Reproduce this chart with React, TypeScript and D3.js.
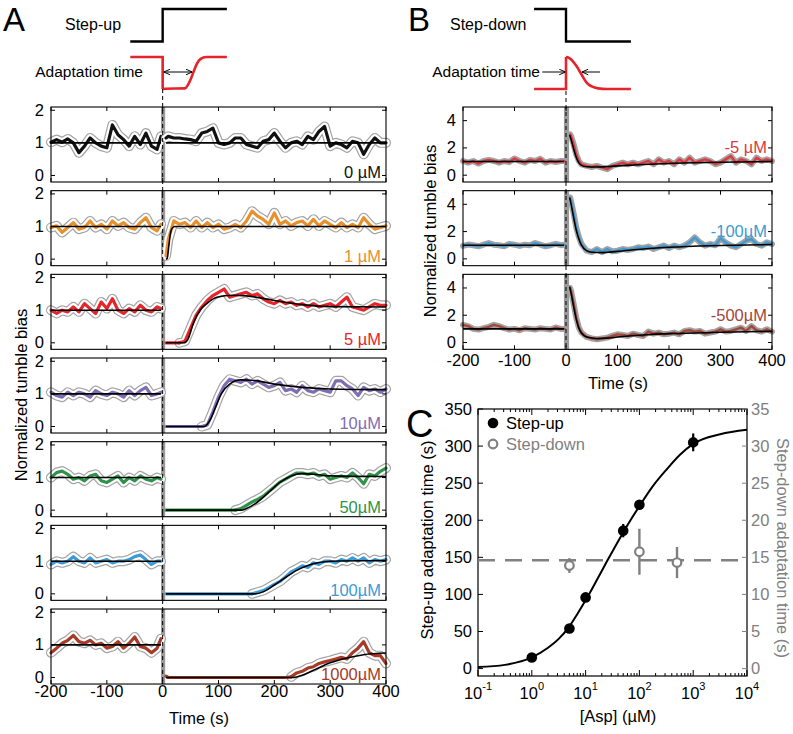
import * as d3 from "d3";

const FONT = "'Liberation Sans', Arial, Helvetica, sans-serif";

// sample times (s)
const preT = [-200, -190, -180, -170, -160, -150, -140, -130, -120, -110, -100, -90, -80, -70, -60, -50, -40, -30, -20, -10, -3];
const postT = [6, 10, 20, 30, 40, 50, 60, 70, 80, 90, 100, 110, 120, 130, 140, 150, 160, 170, 180, 190, 200, 210, 220, 230, 240, 250, 260, 270, 280, 290, 300, 310, 320, 330, 340, 350, 360, 370, 380, 390, 400];
const postTB = [8, 10, 15, 20, 25, 30, 40, 50, 60, 70, 80, 90, 100, 110, 120, 130, 140, 150, 160, 170, 180, 190, 200, 210, 220, 230, 240, 250, 260, 270, 280, 290, 300, 310, 320, 330, 340, 350, 360, 370, 380, 390, 400];

// step-up (A) normalized tumble bias
const up0Pre = [1.02, 1.1, 1.02, 1.12, 1.0, 0.7, 0.9, 1.15, 1.0, 0.9, 0.85, 1.55, 1.25, 1.1, 0.9, 1.2, 0.95, 1.3, 0.9, 0.8, 1.2];
const up0Post = [1.15, 1.2, 1.15, 1.15, 1.12, 1.1, 1.05, 1.3, 1.35, 1.45, 1.0, 0.95, 1.0, 1.15, 1.15, 0.95, 0.9, 0.85, 1.05, 1.1, 1.3, 1.05, 0.85, 1.0, 1.05, 0.95, 1.2, 1.1, 1.35, 1.5, 0.9, 1.0, 0.95, 0.85, 1.05, 1.0, 0.65, 0.95, 1.15, 1.0, 1.0];
const up1Pre = [0.97, 1.02, 0.82, 0.97, 1.12, 0.92, 0.97, 1.17, 0.97, 1.07, 0.92, 1.17, 1.02, 1.12, 0.97, 0.92, 1.12, 1.27, 0.97, 0.87, 1.07];
const up1Post = [0.1, 0.6, 1.17, 1.07, 1.12, 0.97, 1.17, 0.97, 1.12, 0.97, 1.07, 0.92, 0.97, 1.07, 0.97, 1.17, 1.47, 1.32, 1.22, 1.07, 1.42, 1.07, 1.17, 1.02, 1.12, 1.17, 1.02, 1.22, 1.02, 1.17, 1.07, 0.97, 1.12, 0.97, 1.07, 0.97, 1.27, 1.07, 0.92, 0.97, 1.02];
const up5Pre = [1.0, 0.9, 1.0, 0.95, 1.1, 0.95, 1.2, 1.05, 0.9, 1.25, 1.05, 1.35, 1.0, 0.9, 1.05, 0.95, 1.15, 1.0, 0.95, 1.1, 1.05];
const up5Post = [0, 0, 0, 0, 0.05, 0.45, 0.85, 1.1, 1.3, 1.45, 1.55, 1.65, 1.4, 1.45, 1.5, 1.55, 1.45, 1.5, 1.35, 1.25, 1.2, 1.3, 1.2, 1.25, 1.15, 1.2, 1.1, 1.2, 1.1, 1.15, 1.2, 1.1, 1.25, 1.4, 1.1, 1.05, 1.0, 1.1, 1.2, 1.15, 1.15];
const up10Pre = [1.05, 0.95, 0.9, 1.05, 0.95, 1.05, 1.0, 0.9, 1.1, 1.0, 0.95, 1.05, 1.0, 0.9, 1.1, 0.95, 1.1, 1.2, 0.95, 1.0, 1.05];
const up10Post = [0, 0, 0, 0, 0, 0, 0, 0, 0.05, 0.45, 0.9, 1.25, 1.45, 1.4, 1.35, 1.45, 1.3, 1.4, 1.3, 1.2, 1.25, 1.35, 1.1, 1.15, 1.05, 1.25, 1.1, 1.05, 1.15, 1.1, 1.05, 1.4, 1.4, 1.25, 1.15, 0.95, 1.2, 1.1, 1.15, 1.05, 1.15];
const up50Pre = [1.0, 1.15, 1.2, 1.1, 0.95, 1.0, 0.9, 1.05, 1.1, 0.9, 0.85, 0.95, 1.05, 0.85, 1.0, 0.9, 1.05, 0.95, 0.9, 1.0, 0.95];
const up50Post = [0, 0, 0, 0, 0, 0, 0, 0, 0, 0, 0, 0, 0, 0, 0.05, 0.15, 0.25, 0.33, 0.43, 0.57, 0.71, 0.86, 0.95, 1.05, 1.14, 1.14, 1.1, 1.14, 1.05, 1.1, 0.95, 1.0, 1.05, 1.0, 1.14, 1.0, 0.81, 1.1, 1.05, 1.19, 1.29];
const up100Pre = [0.9, 1.0, 0.95, 1.0, 1.14, 1.0, 0.95, 1.1, 0.95, 1.0, 1.05, 0.95, 1.0, 1.0, 1.05, 1.14, 1.19, 1.05, 0.9, 1.0, 1.0];
const up100Post = [0, 0, 0, 0, 0, 0, 0, 0, 0, 0, 0, 0, 0, 0, 0, 0, 0, 0.05, 0.1, 0.19, 0.29, 0.38, 0.52, 0.67, 0.76, 0.86, 0.81, 0.95, 0.9, 1.0, 1.0, 0.95, 1.05, 1.0, 1.1, 1.0, 1.1, 0.95, 1.05, 1.0, 1.05];
const up1000Pre = [0.76, 0.9, 1.05, 1.14, 1.29, 1.1, 1.05, 1.14, 1.0, 1.05, 0.9, 0.95, 1.1, 0.9, 1.05, 1.24, 0.95, 0.9, 0.76, 0.9, 1.19];
const up1000Post = [0.04, 0, 0, 0, 0, 0, 0, 0, 0, 0, 0, 0, 0, 0, 0, 0, 0, 0, 0, 0, 0, 0, 0, 0.02, 0.14, 0.19, 0.29, 0.33, 0.43, 0.48, 0.52, 0.57, 0.62, 0.57, 0.76, 0.9, 1.1, 0.76, 0.67, 0.67, 0.43];

// step-up fitted curves [t, value]
const fitPreA = [[-200, 1], [-3, 1]];
const up0Fit = [[6, 1], [400, 1]];
const up1Fit = [[6, 0], [8, 0.02], [11, 0.4], [14, 0.8], [17, 0.95], [22, 1.0], [400, 1.0]];
const up5Fit = [[6, 0], [38, 0], [45, 0.1], [55, 0.6], [67, 1.0], [80, 1.22], [97, 1.4], [125, 1.46], [150, 1.44], [200, 1.3], [250, 1.17], [300, 1.11], [400, 1.1]];
const up10Fit = [[6, 0], [75, 0], [85, 0.2], [95, 0.6], [105, 1.0], [120, 1.3], [140, 1.43], [160, 1.42], [200, 1.3], [250, 1.2], [300, 1.15], [400, 1.13]];
const up50Fit = [[6, 0], [140, 0], [150, 0.05], [170, 0.25], [190, 0.55], [210, 0.85], [230, 1.05], [250, 1.12], [270, 1.1], [300, 1.05], [400, 1.03]];
const up100Fit = [[6, 0], [165, 0], [180, 0.06], [200, 0.27], [220, 0.5], [240, 0.72], [260, 0.87], [280, 0.96], [300, 1.0], [400, 1.02]];
const up1000Fit = [[6, 0], [235, 0], [250, 0.07], [270, 0.22], [300, 0.45], [330, 0.6], [360, 0.7], [400, 0.75]];

const upLabels = ["0 µM", "1 µM", "5 µM", "10µM", "50µM", "100µM", "1000µM"];
const upColors = ["#111111", "#e8902c", "#e8242b", "#7f6db3", "#2e9348", "#3c9ad6", "#a63b28"];

// step-down (B)
const dn5Pre = [1.04, 0.92, 1.04, 0.85, 1.04, 1.12, 1.04, 0.92, 1.04, 0.97, 1.22, 1.04, 0.92, 1.12, 1.04, 1.2, 0.92, 1.04, 0.97, 1.04, 1.04];
const dn5Post = [3.0, 2.85, 2.25, 1.5, 1.04, 0.8, 0.68, 0.6, 0.68, 0.55, 0.44, 0.68, 0.8, 0.92, 0.8, 0.92, 0.8, 0.92, 1.04, 0.8, 1.16, 0.92, 1.04, 0.8, 1.16, 0.92, 1.28, 0.92, 1.04, 1.16, 1.04, 0.8, 0.92, 1.16, 1.4, 0.92, 1.16, 1.04, 0.8, 1.28, 1.04, 1.16, 1.04];
const dn100Pre = [0.95, 1.05, 1.0, 0.92, 1.04, 1.16, 1.04, 1.0, 0.92, 1.1, 1.04, 0.95, 1.04, 1.0, 1.16, 1.04, 0.92, 1.0, 1.1, 1.0, 1.04];
const dn100Post = [4.5, 4.2, 3.3, 2.3, 1.6, 1.1, 0.6, 0.5, 0.72, 0.5, 0.72, 0.55, 0.6, 0.72, 0.65, 0.72, 0.85, 0.8, 0.9, 0.72, 0.85, 0.97, 0.8, 0.97, 0.85, 0.97, 1.21, 1.58, 1.21, 0.97, 1.09, 1.0, 1.5, 1.2, 0.97, 0.85, 1.09, 1.33, 1.45, 1.09, 0.97, 1.21, 1.09];
const dn500Pre = [1.3, 1.2, 1.0, 0.95, 1.05, 1.15, 1.3, 1.2, 1.05, 0.95, 1.0, 0.9, 1.05, 1.0, 0.95, 1.05, 1.0, 0.95, 1.1, 1.0, 1.0];
const dn500Post = [4.0, 3.75, 2.8, 1.8, 1.1, 0.73, 0.41, 0.3, 0.24, 0.3, 0.36, 0.48, 0.6, 0.55, 0.48, 0.65, 0.55, 0.48, 0.8, 0.65, 0.73, 0.6, 0.65, 0.73, 0.6, 0.85, 0.9, 0.8, 0.85, 0.65, 0.73, 0.8, 0.97, 0.8, 0.85, 0.97, 1.09, 0.85, 1.21, 0.9, 0.8, 0.97, 0.8];

const fitPreB = [[-200, 1], [-4, 1]];
const dn5Fit = [[7, 2.95], [10, 2.6], [15, 1.9], [20, 1.3], [25, 0.9], [30, 0.72], [40, 0.62], [60, 0.6], [100, 0.68], [150, 0.78], [200, 0.86], [300, 0.95], [400, 1.0]];
const dn100Fit = [[7, 4.5], [10, 4.0], [15, 3.0], [20, 2.1], [25, 1.45], [30, 1.0], [40, 0.6], [50, 0.48], [70, 0.46], [100, 0.55], [150, 0.72], [200, 0.85], [300, 0.98], [400, 1.05]];
const dn500Fit = [[7, 4.1], [10, 3.6], [15, 2.6], [20, 1.7], [25, 1.05], [30, 0.7], [40, 0.4], [60, 0.3], [80, 0.32], [100, 0.4], [150, 0.55], [200, 0.65], [250, 0.7], [300, 0.75], [400, 0.82]];

const dnLabels = ["-5 µM", "-100µM", "-500µM"];
const dnColors = ["#dc3a40", "#3e9ad4", "#a4463a"];

// schematics (time, level)
const stepUp = [[-58, 0], [0, 0], [0, 1], [115, 1]];
const respUpPre = [[-58, 1], [0, 1], [0, 0]];
const respUpPost = [[0, 0], [5, 0.01], [40, 0.02], [45, 0.12], [50, 0.3], [55, 0.52], [61, 0.78], [68, 0.94], [78, 1], [115, 1]];
const stepDown = [[-62, 1], [0, 1], [0, 0], [126, 0]];
const respDnPre = [[-62, 0], [0, 0], [0, 1]];
const respDnPost = [[0, 1], [5, 0.98], [10, 0.92], [21, 0.7], [31, 0.43], [40, 0.2], [50, 0.08], [62, 0.02], [80, 0], [126, 0]];

// panel C
const ascConc = [1, 5, 10, 50, 100, 1000];
const ascTime = [15, 54, 96, 186, 221, 305];
const ascErr = [3, 3, 3, 9, 4, 12];
const dscConc = [5, 100, 500];
const dscTime = [13.9, 15.75, 14.3];
const dscErr = [1.0, 3.1, 2.1];
const dscMean = 14.6;
const hillFit = [[0.1, 2.2], [0.316, 5], [1, 15], [2, 28], [3.16, 40], [5, 57], [7.08, 74], [10, 92], [15.8, 118], [25.1, 145], [39.8, 171], [63.1, 196], [100, 219], [178, 246], [316, 268], [562, 288], [1000, 303], [3162, 316], [10000, 322]];

const timeTicks = [-200, -100, 0, 100, 200, 300, 400];
const yTicksA = [0, 1, 2];
const yTicksB = [0, 2, 4];
const yTicksC = [0, 50, 100, 150, 200, 250, 300, 350];
const yTicksC2 = [0, 5, 10, 15, 20, 25, 30, 35];
const decades = [0.1, 1, 10, 100, 1000, 10000];
const decadeExp = ["-1", "0", "1", "2", "3", "4"];

const PH = 75;
const panelTop = (i: number) => 107 + i * 83.67;

// mean trace with its two grey SEM lines; the flat zero run before the response has no spread
function Trace({ x, y, t, v, color, outer, inner, core }: any) {
  const first = v.findIndex((d: number) => d > 0.045);
  const k = first > 0 ? first - 1 : 0;
  const pts = t.map((tt: number, i: number) => [x(tt), y(v[i])]);
  const d = d3.line()(pts.slice(k));
  const dz = k > 0 ? d3.line()(pts.slice(0, k + 1)) : null;
  return (
    <g fill="none" strokeLinejoin="round" strokeLinecap="round">
      <path d={d!} stroke="#a3a3a3" strokeWidth={outer} />
      {inner > 0 && <path d={d!} stroke="#fff" strokeWidth={inner} />}
      <path d={d!} stroke={color} strokeWidth={core} />
      {dz && <path d={dz} stroke={color} strokeWidth={core} />}
    </g>
  );
}

function Panel({ x, top, yDomain, yTicks, pre, post, tPost, fitPre, fitPost, color, label, labelAt, band, showX, xLabelDy, env }: any) {
  const y = d3.scaleLinear().domain(yDomain).range([top + PH, top]);
  const [x0, x1] = x.range();
  const fitLine = d3.line<number[]>().x((d) => x(d[0])).y((d) => y(d[1])).curve(d3.curveMonotoneX);
  return (
    <g>
      <rect x={x(band[0])} y={top} width={x(band[1]) - x(band[0])} height={PH} fill="#9a9a9a" />
      <Trace x={x} y={y} t={preT} v={pre} color={color} {...env} />
      <Trace x={x} y={y} t={tPost} v={post} color={color} {...env} />
      <path d={fitLine(fitPre)!} fill="none" stroke="#000" strokeWidth={1.6} />
      <path d={fitLine(fitPost)!} fill="none" stroke="#000" strokeWidth={1.6} />
      <rect x={x0} y={top} width={x1 - x0} height={PH} fill="none" stroke="#000" strokeWidth={1.1} />
      {timeTicks.map((t) => (
        <g key={t} stroke="#000">
          <line x1={x(t)} x2={x(t)} y1={top} y2={top + 4} />
          <line x1={x(t)} x2={x(t)} y1={top + PH} y2={top + PH - 4} />
        </g>
      ))}
      {yTicks.map((v: number) => (
        <g key={v}>
          <line x1={x0} x2={x0 + 4} y1={y(v)} y2={y(v)} stroke="#000" />
          <line x1={x1} x2={x1 - 4} y1={y(v)} y2={y(v)} stroke="#000" />
          <text x={x0 - 7} y={y(v) + 5.5} textAnchor="end" fontSize={16.5}>{v}</text>
        </g>
      ))}
      <text x={x1 - 5} y={labelAt === "bottom" ? top + PH - 4 : y(labelAt) + 5.5} textAnchor="end" fontSize={16.5} fill={color}>{label}</text>
      {showX && timeTicks.map((t) => (
        <text key={t} x={x(t)} y={top + PH + xLabelDy} textAnchor="middle" fontSize={16.5}>{t}</text>
      ))}
    </g>
  );
}

export default function App() {
  const xA = d3.scaleLinear().domain([-200, 400]).range([51, 386]);
  const xB = d3.scaleLinear().domain([-200, 400]).range([463, 772]);
  const stepY = d3.scaleLinear().domain([0, 1]).range([41.5, 9]);
  const respY = d3.scaleLinear().domain([0, 1]).range([89, 57]);
  const lin = (x: any, y: any) => d3.line<number[]>().x((d) => x(d[0])).y((d) => y(d[1]));
  const smooth = (x: any, y: any) => d3.line<number[]>().x((d) => x(d[0])).y((d) => y(d[1])).curve(d3.curveMonotoneX);

  const upPre = [up0Pre, up1Pre, up5Pre, up10Pre, up50Pre, up100Pre, up1000Pre];
  const upPost = [up0Post, up1Post, up5Post, up10Post, up50Post, up100Post, up1000Post];
  const upFit = [up0Fit, up1Fit, up5Fit, up10Fit, up50Fit, up100Fit, up1000Fit];
  const dnPre = [dn5Pre, dn100Pre, dn500Pre];
  const dnPost = [dn5Post, dn100Post, dn500Post];
  const dnFit = [dn5Fit, dn100Fit, dn500Fit];

  const xC = d3.scaleLog().domain([0.1, 10000]).range([478, 747]);
  const yC = d3.scaleLinear().domain([-10, 350]).range([676, 409]);
  const yC2 = d3.scaleLinear().domain([-1, 35]).range([676, 409]);
  const minorC = xC.ticks();
  const gray = "#808080";
  const red = "#e5232a";

  return (
    <svg width={793} height={734} style={{ position: "absolute", left: 0, top: 0, background: "#fff" }} fontFamily={FONT}>
      <defs>
        <marker id="ah" viewBox="0 0 10 10" refX="10" refY="5" markerWidth="7" markerHeight="7" markerUnits="userSpaceOnUse" orient="auto-start-reverse">
          <path d="M1,1 L10,5 L1,9" fill="none" stroke="#000" strokeWidth={1.4} />
        </marker>
      </defs>

      {/* ---------- A ---------- */}
      <text x={3} y={31} fontSize={33}>A</text>
      <text x={65} y={30} fontSize={16}>Step-up</text>
      <text x={143} y={77} fontSize={15.5} textAnchor="end">Adaptation time</text>
      <path d={lin(xA, stepY)(stepUp)!} fill="none" stroke="#000" strokeWidth={2.4} />
      <path d={lin(xA, respY)(respUpPre)!} fill="none" stroke={red} strokeWidth={2.6} />
      <path d={smooth(xA, respY)(respUpPost)!} fill="none" stroke={red} strokeWidth={2.6} />
      <line x1={xA(2)} x2={xA(53)} y1={72} y2={72} stroke="#000" strokeWidth={1} markerStart="url(#ah)" markerEnd="url(#ah)" />
      {upLabels.map((lab, i) => (
        <Panel key={lab} x={xA} top={panelTop(i)} yDomain={[-0.2, 2.1]} yTicks={yTicksA}
          pre={upPre[i]} post={upPost[i]} tPost={postT} fitPre={fitPreA} fitPost={upFit[i]}
          color={upColors[i]} label={lab} labelAt="bottom" band={[-3, 4.5]} showX={i === 6} xLabelDy={13}
          env={{ outer: 10, inner: 7.6, core: 3.2 }} />
      ))}
      <line x1={xA(0)} x2={xA(0)} y1={89} y2={684} stroke="#000" strokeWidth={1} strokeDasharray="4 3" />
      <text x={199} y={724} textAnchor="middle" fontSize={16.5}>Time (s)</text>
      <text transform="translate(27,395) rotate(-90)" textAnchor="middle" fontSize={16.5}>Normalized tumble bias</text>

      {/* ---------- B ---------- */}
      <text x={408} y={31} fontSize={33}>B</text>
      <text x={450} y={30} fontSize={16}>Step-down</text>
      <text x={540} y={77} fontSize={15.5} textAnchor="end">Adaptation time</text>
      <path d={lin(xB, stepY)(stepDown)!} fill="none" stroke="#000" strokeWidth={2.4} />
      <path d={lin(xB, respY)(respDnPre)!} fill="none" stroke={red} strokeWidth={2.6} />
      <path d={smooth(xB, respY)(respDnPost)!} fill="none" stroke={red} strokeWidth={2.6} />
      <line x1={xB(-46)} x2={xB(-1)} y1={72} y2={72} stroke="#000" strokeWidth={1} markerEnd="url(#ah)" />
      <line x1={xB(66)} x2={xB(31)} y1={72} y2={72} stroke="#000" strokeWidth={1} markerEnd="url(#ah)" />
      {dnLabels.map((lab, i) => (
        <Panel key={lab} x={xB} top={panelTop(i)} yDomain={[-0.5, 5]} yTicks={yTicksB}
          pre={dnPre[i]} post={dnPost[i]} tPost={postTB} fitPre={fitPreB} fitPost={dnFit[i]}
          color={dnColors[i]} label={lab} labelAt={2} band={[-4, 6]} showX={i === 2} xLabelDy={17}
          env={{ outer: 6, inner: 0, core: 2.4 }} />
      ))}
      <line x1={xB(0)} x2={xB(0)} y1={91} y2={350} stroke="#000" strokeWidth={1} strokeDasharray="4 3" />
      <text x={618} y={389} textAnchor="middle" fontSize={16.5}>Time (s)</text>
      <text transform="translate(436,231) rotate(-90)" textAnchor="middle" fontSize={16.5}>Normalized tumble bias</text>

      {/* ---------- C ---------- */}
      <text x={406} y={437} fontSize={38}>C</text>
      <rect x={478} y={409} width={269} height={267} fill="none" stroke="#000" strokeWidth={1.2} />
      {minorC.map((v, i) => {
        const major = decades.includes(v);
        const L = major ? 6 : 3;
        return (
          <g key={i} stroke="#000">
            <line x1={xC(v)} x2={xC(v)} y1={676} y2={676 - L} />
            <line x1={xC(v)} x2={xC(v)} y1={409} y2={409 + L} />
          </g>
        );
      })}
      {decades.map((v, i) => (
        <text key={v} x={xC(v)} y={699} textAnchor="middle" fontSize={16.5}>10<tspan dy={-9} fontSize={11}>{decadeExp[i]}</tspan></text>
      ))}
      {yTicksC.map((v) => (
        <g key={v}>
          <line x1={478} x2={483} y1={yC(v)} y2={yC(v)} stroke="#000" />
          <text x={472} y={yC(v) + 5.5} textAnchor="end" fontSize={16.5}>{v}</text>
        </g>
      ))}
      {yTicksC2.map((v) => (
        <g key={v}>
          <line x1={747} x2={742} y1={yC2(v)} y2={yC2(v)} stroke={gray} />
          <text x={751} y={yC2(v) + 5.5} fontSize={16.5} fill={gray}>{v}</text>
        </g>
      ))}
      <line x1={478} x2={747} y1={yC2(dscMean)} y2={yC2(dscMean)} stroke={gray} strokeWidth={2.6} strokeDasharray="17 10" />
      <path d={smooth(xC, yC)(hillFit)!} fill="none" stroke="#000" strokeWidth={2} />
      {dscConc.map((c, i) => (
        <g key={c}>
          <line x1={xC(c)} x2={xC(c)} y1={yC2(dscTime[i] - dscErr[i])} y2={yC2(dscTime[i] + dscErr[i])} stroke={gray} strokeWidth={2.4} />
          <circle cx={xC(c)} cy={yC2(dscTime[i])} r={4.3} fill="#fff" stroke={gray} strokeWidth={2.2} />
        </g>
      ))}
      {ascConc.map((c, i) => (
        <g key={c}>
          <line x1={xC(c)} x2={xC(c)} y1={yC(ascTime[i] - ascErr[i])} y2={yC(ascTime[i] + ascErr[i])} stroke="#000" strokeWidth={2.2} />
          <circle cx={xC(c)} cy={yC(ascTime[i])} r={5.3} fill="#000" />
        </g>
      ))}
      <circle cx={493} cy={423} r={5.3} fill="#000" />
      <text x={506} y={428.5} fontSize={16.5}>Step-up</text>
      <circle cx={493} cy={444} r={4.3} fill="#fff" stroke={gray} strokeWidth={2.2} />
      <text x={506} y={449.5} fontSize={16.5} fill={gray}>Step-down</text>
      <text x={618} y={722} textAnchor="middle" fontSize={16.5}>[Asp] (µM)</text>
      <text transform="translate(433,540) rotate(-90)" textAnchor="middle" fontSize={16.5}>Step-up adaptation time (s)</text>
      <text transform="translate(777,548) rotate(90)" textAnchor="middle" fontSize={16.5} fill={gray}>Step-down adaptation time (s)</text>
    </svg>
  );
}
